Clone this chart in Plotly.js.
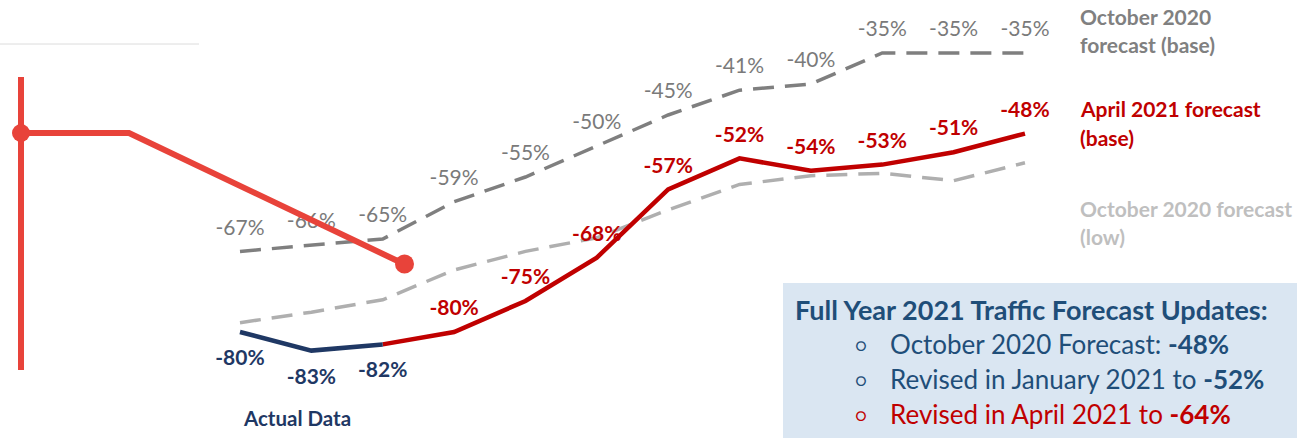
<!DOCTYPE html>
<html>
<head>
<meta charset="utf-8">
<script src="https://cdn.plot.ly/plotly-3.0.1.min.js"></script>
<style>
  html, body { margin: 0; padding: 0; background: #ffffff; }
  #chart { width: 1303px; height: 438px; }
</style>
</head>
<body>
<div id="chart"></div>
<script>
// ---- data ----
const months = ['Jan','Feb','Mar','Apr','May','Jun','Jul','Aug','Sep','Oct','Nov','Dec'];
const actualMonths = ['Jan','Feb','Mar'];
const actualValues = [-80, -83, -82];
const aprilMonths = ['Mar','Apr','May','Jun','Jul','Aug','Sep','Oct','Nov','Dec'];
const aprilValues = [-82, -80, -75, -68, -57, -52, -54, -53, -51, -48];
const octBaseValues = [-67, -66, -65, -59, -55, -50, -45, -41, -40, -35, -35, -35];
const octLowValues = [-78.5, -76.8, -74.8, -70, -67, -64.8, -60.3, -56.2, -54.8, -54.4, -55.6, -52.7];

const legendLabels = {
  octBase: ['October 2020', 'forecast (base)'],
  april: ['April 2021 forecast', '(base)'],
  octLow: ['October 2020 forecast', '(low)']
};
const boxTitle = 'Full Year 2021 Traffic Forecast Updates:';
const boxLines = [
  {text: 'October 2020 Forecast: ', value: '-48%', color: '#1f4e79'},
  {text: 'Revised in January 2021 to ', value: '-52%', color: '#1f4e79'},
  {text: 'Revised in April 2021 to ', value: '-64%', color: '#c00000'}
];

// ---- styles ----
const W = 1303, H = 438;
const FONT = 'Lato, Carlito, Calibri, "Open Sans", sans-serif';
const C_RED = '#c00000', C_BLUE = '#1f3864', C_DGRAY = '#7a7a7a', C_LGRAY = '#afafaf';
const pct = v => Math.round(v) + '%';
const px = x => x / W;
const py = y => 1 - y / H;

const aprilLabelMonths = aprilMonths.slice(1);
const aprilLabelValues = aprilValues.slice(1);

const traces = [
  {x: months, y: octLowValues, mode: 'lines', line: {color: C_LGRAY, width: 3.5, dash: '21px,11px'}, hoverinfo: 'skip'},
  {x: months, y: octBaseValues, mode: 'lines', line: {color: '#7f7f7f', width: 3.5, dash: '21px,11px'}, hoverinfo: 'skip'},
  {x: aprilMonths, y: aprilValues, mode: 'lines', line: {color: C_RED, width: 4.5}, hoverinfo: 'skip'},
  {x: actualMonths, y: actualValues, mode: 'lines', line: {color: C_BLUE, width: 4.5}, hoverinfo: 'skip'},
  // labels
  {x: months, y: octBaseValues, mode: 'markers+text', text: octBaseValues.map(pct), textposition: 'top center',
   marker: {size: 17, opacity: 0}, textfont: {family: FONT, size: 21, color: C_DGRAY}, hoverinfo: 'skip'},
  {x: aprilLabelMonths, y: aprilLabelValues, mode: 'markers+text', text: aprilLabelValues.map(pct), textposition: 'top center',
   marker: {size: 17, opacity: 0}, textfont: {family: FONT, size: 21, color: C_RED, weight: 'bold'}, hoverinfo: 'skip'},
  {x: actualMonths, y: actualValues, mode: 'markers+text', text: actualValues.map(pct), textposition: 'bottom center',
   marker: {size: 26, opacity: 0}, textfont: {family: FONT, size: 21, color: C_BLUE, weight: 'bold'}, hoverinfo: 'skip'}
];

const ART = '#e8433a';
const shapes = [
  {type: 'line', xref: 'paper', yref: 'paper', x0: 0, x1: px(199), y0: py(44), y1: py(44), line: {color: '#dcdcdc', width: 1}},
  {type: 'rect', xref: 'paper', yref: 'paper', x0: px(783), x1: px(1297), y0: py(283), y1: 0, fillcolor: '#dae6f2', line: {width: 0}, layer: 'below'},
  {type: 'line', xref: 'paper', yref: 'paper', x0: px(21), x1: px(21), y0: py(77), y1: py(370), line: {color: ART, width: 6}},
  {type: 'path', xref: 'paper', yref: 'paper',
   path: `M ${px(21)},${py(133)} L ${px(129)},${py(133)} L ${px(404)},${py(264)}`, line: {color: ART, width: 6}},
  {type: 'circle', xref: 'paper', yref: 'paper', x0: px(12), x1: px(30), y0: py(142), y1: py(124), fillcolor: ART, line: {width: 0}},
  {type: 'circle', xref: 'paper', yref: 'paper', x0: px(395), x1: px(414), y0: py(273.5), y1: py(254.5), fillcolor: ART, line: {width: 0}}
];

const annotations = [];
function addText(text, x, y, size, color, weight, xanchor) {
  annotations.push({text: text, xref: 'paper', yref: 'paper', x: px(x), y: py(y), xanchor: xanchor || 'left', yanchor: 'middle',
    showarrow: false, align: 'left', font: {family: FONT, size: size, color: color, weight: weight || 'normal'}});
}
addText(legendLabels.octBase[0], 1078, 16, 21, '#808080', 'bold');
addText(legendLabels.octBase[1], 1078, 44, 21, '#808080', 'bold');
addText(legendLabels.april[0], 1078, 109, 21, C_RED, 'bold');
addText(legendLabels.april[1], 1078, 137, 21, C_RED, 'bold');
addText(legendLabels.octLow[0], 1078, 208, 21, '#bfbfbf', 'bold');
addText(legendLabels.octLow[1], 1078, 236, 21, '#bfbfbf', 'bold');
addText('Actual Data', 297, 418, 20.5, C_BLUE, 'bold', 'center');

addText(boxTitle, 793, 309, 27, '#1f4e79', 'bold');
const lineYs = [344, 379, 414];
boxLines.forEach((l, i) => {
  addText('○', 853, lineYs[i] + 1, 18, l.color, 'normal');
  addText(l.text + '<b>' + l.value + '</b>', 888, lineYs[i], 26, l.color, 'normal');
});

const layout = {
  width: W, height: H,
  margin: {l: 0, r: 0, t: 0, b: 0, pad: 0},
  paper_bgcolor: '#ffffff', plot_bgcolor: 'rgba(0,0,0,0)',
  showlegend: false,
  xaxis: {type: 'category', categoryorder: 'array', categoryarray: months, range: [-3.363, 14.896],
          visible: false, showgrid: false, zeroline: false, fixedrange: true},
  yaxis: {range: [-97.097, -26.452], visible: false, showgrid: false, zeroline: false, fixedrange: true},
  shapes: shapes,
  annotations: annotations,
  font: {family: FONT}
};

Plotly.newPlot('chart', traces, layout, {displayModeBar: false, staticPlot: true});
</script>
</body>
</html>
